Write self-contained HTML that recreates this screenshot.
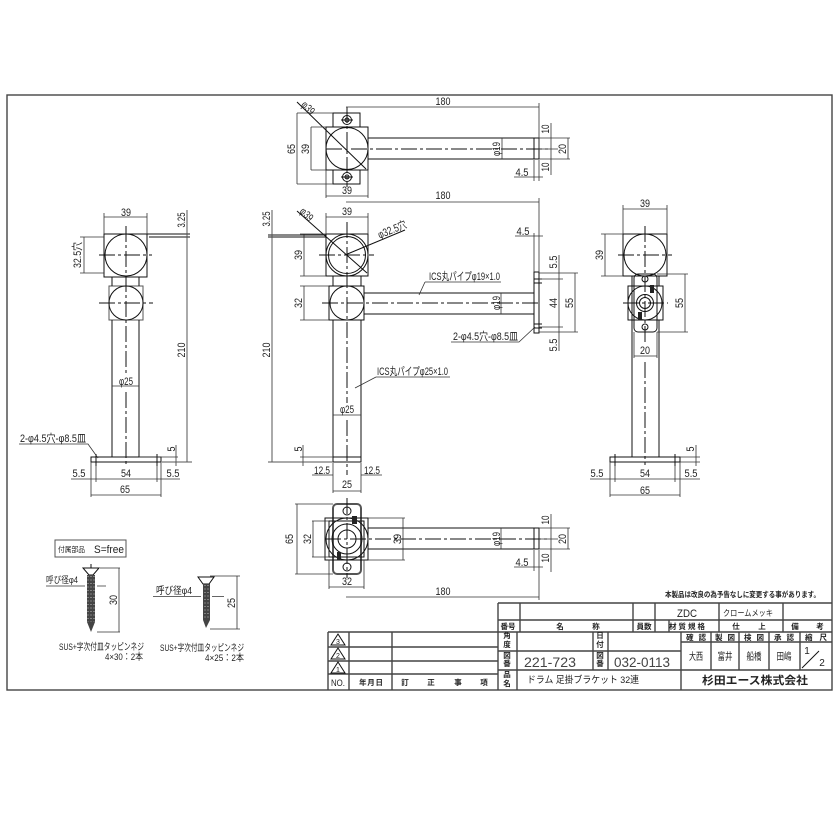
<!DOCTYPE html>
<html><head><meta charset="utf-8"><style>
html,body{margin:0;padding:0;background:#fff}
svg{display:block;filter:blur(.3px)}
text{font-family:"Liberation Sans","Noto Sans CJK JP",sans-serif;fill:#222;font-size:11px;text-anchor:middle}
.s{font-size:7.5px;font-weight:bold}
.l{text-anchor:start}
.k{stroke:#111;stroke-width:1;fill:none}
.g{stroke:#555;stroke-width:1;fill:none}
.d{stroke:#333;stroke-width:.8;fill:none}
.c{stroke:#111;stroke-width:1;fill:none;stroke-dasharray:16 3 3 3}
.f{stroke:#444;stroke-width:1.4;fill:none}
</style></head><body>
<svg width="840" height="840" viewBox="0 0 840 840" xmlns="http://www.w3.org/2000/svg">
<rect width="840" height="840" fill="#fff"/>
<rect x="7" y="95" width="825" height="595" class="f"/>

<!-- TOP VIEW -->
<g class="k">
<path d="M333 127V113H360V127M333 170V184H360V170"/>
<rect x="326" y="127" width="42" height="43"/>
<circle cx="347" cy="148.500" r="21"/>
<path d="M368 138H534M368 159H534"/>
<rect x="534" y="138" width="5" height="21"/>
<circle cx="347" cy="120" r="4.500"/><circle cx="347" cy="120" r="2"/>
<circle cx="347" cy="177" r="4.500"/><circle cx="347" cy="177" r="2"/>
<path d="M341 120H353M341 177H353M297 102L366 169"/>
</g>
<path class="c" d="M326 149H548M347 107V187"/>
<path class="d" d="M346 107H539M539 103V150M297 113V184M297 113H333M297 184H333M311 127V170M311 127H326M311 170H326M326 196H368M326 170V198M368 170V198M502 138V159M551 123V175M539 138H570M539 149H558M539 159H570M568 138V159M514 177H543M534 160V181M539 160V181"/>
<text x="443" y="105" textLength="15" lengthAdjust="spacingAndGlyphs">180</text>
<text transform="translate(305.500 110.500) rotate(45)" textLength="14" lengthAdjust="spacingAndGlyphs">φ39</text>
<text transform="translate(295 149) rotate(-90)" textLength="10" lengthAdjust="spacingAndGlyphs">65</text>
<text transform="translate(309 149) rotate(-90)" textLength="10" lengthAdjust="spacingAndGlyphs">39</text>
<text x="347" y="194" textLength="10" lengthAdjust="spacingAndGlyphs">39</text>
<text transform="translate(500 149) rotate(-90)" textLength="14" lengthAdjust="spacingAndGlyphs">φ19</text>
<text transform="translate(549 129) rotate(-90)" textLength="9" lengthAdjust="spacingAndGlyphs">10</text>
<text transform="translate(549 167) rotate(-90)" textLength="9" lengthAdjust="spacingAndGlyphs">10</text>
<text transform="translate(566 149) rotate(-90)" textLength="10" lengthAdjust="spacingAndGlyphs">20</text>
<text x="522" y="176" textLength="13" lengthAdjust="spacingAndGlyphs">4.5</text>

<!-- FRONT VIEW -->
<g class="k">
<rect x="326" y="234" width="42" height="42"/>
<circle cx="347" cy="255" r="21"/><circle cx="347" cy="255" r="18.500"/>
<rect x="329" y="286" width="35" height="34"/>
<circle cx="347" cy="303" r="17"/>
<path d="M333 276V286M361 276V286M333 320V457M361 320V457M364 293H534M364 314H534"/>
<rect x="534" y="272" width="5" height="61"/>
<path d="M333 457H361V462H333Z"/>
<path d="M297 211L367 273M345 255L405 230"/>
<path d="M534 279H542M534 283H542M534 324H542M534 328H542"/>
</g>
<path class="c" d="M319 255H374M347 222V403M347 420V475M322 303H540"/>
<path class="d" d="M346 202H539M539 198V272M326 217H368M326 213V234M368 213V234M304 234V276M300 234H326M300 276H326M304 286V320M300 286H329M300 320H329M501 293V314M515 236H543M534 233V272M539 233V272M559 255V351M539 279H563M539 327H563M575 273V332M539 273H578M539 332H578M303 445V466M300 457H333M333 475H312M361 475H382M333 463V493M361 463V493M333 491H361M333 415H361"/>
<path class="k" stroke-width="1.500" d="M268 235H326M268 237H326"/>
<path class="g" d="M272 210V462M268 462H333"/>
<text transform="translate(270 219) rotate(-90)" textLength="15" lengthAdjust="spacingAndGlyphs">3.25</text>
<text x="443" y="199" textLength="15" lengthAdjust="spacingAndGlyphs">180</text>
<text x="347" y="215" textLength="10" lengthAdjust="spacingAndGlyphs">39</text>
<text transform="translate(304 217) rotate(45)" textLength="14" lengthAdjust="spacingAndGlyphs">φ39</text>
<text transform="translate(393.500 233) rotate(-22)" textLength="30" lengthAdjust="spacingAndGlyphs">φ32.5穴</text>
<text transform="translate(302 255) rotate(-90)" textLength="10" lengthAdjust="spacingAndGlyphs">39</text>
<text transform="translate(302 303) rotate(-90)" textLength="10" lengthAdjust="spacingAndGlyphs">32</text>
<text transform="translate(270 350) rotate(-90)" textLength="15" lengthAdjust="spacingAndGlyphs">210</text>
<text class="l" x="429" y="280" textLength="71" lengthAdjust="spacingAndGlyphs">ICS丸パイプφ19×1.0</text>
<path class="d" d="M425 282H501M425 282L419 295"/>
<text transform="translate(500 303) rotate(-90)" textLength="14" lengthAdjust="spacingAndGlyphs">φ19</text>
<text x="523" y="235" textLength="13" lengthAdjust="spacingAndGlyphs">4.5</text>
<text transform="translate(557 262) rotate(-90)" textLength="13" lengthAdjust="spacingAndGlyphs">5.5</text>
<text transform="translate(557 303) rotate(-90)" textLength="10" lengthAdjust="spacingAndGlyphs">44</text>
<text transform="translate(557 345) rotate(-90)" textLength="13" lengthAdjust="spacingAndGlyphs">5.5</text>
<text transform="translate(573 303) rotate(-90)" textLength="10" lengthAdjust="spacingAndGlyphs">55</text>
<text class="l" x="453" y="340" textLength="65" lengthAdjust="spacingAndGlyphs">2-φ4.5穴-φ8.5皿</text>
<path class="d" d="M451 342H519L535 327"/>
<text class="l" x="377" y="375" textLength="71" lengthAdjust="spacingAndGlyphs">ICS丸パイプφ25×1.0</text>
<path class="d" d="M376 377H450M376 377L355 388"/>
<text x="347" y="413" textLength="14" lengthAdjust="spacingAndGlyphs">φ25</text>
<text transform="translate(302 449) rotate(-90)" textLength="5" lengthAdjust="spacingAndGlyphs">5</text>
<text x="322" y="474" textLength="16" lengthAdjust="spacingAndGlyphs">12.5</text>
<text x="372" y="474" textLength="16" lengthAdjust="spacingAndGlyphs">12.5</text>
<text x="347" y="488" textLength="10" lengthAdjust="spacingAndGlyphs">25</text>

<!-- LEFT VIEW -->
<g class="k">
<rect x="104" y="234" width="43" height="43"/>
<circle cx="126" cy="255" r="21"/>
<rect x="109" y="286" width="34" height="34" stroke="#555"/>
<circle cx="126" cy="303" r="17"/>
<path d="M112 277V286M139 277V286M112 320V457M139 320V457"/>
<rect x="91" y="457" width="70" height="5"/>
<path d="M96 454V466M157 454V466"/>
</g>
<path class="c" d="M99 255H152M99 303H153M126 226V374M126 392V467"/>
<path class="d" d="M104 217H147M104 213V234M147 213V234M84 237V273M80 237H104M80 273H104M112 386H139M176 445V466M139 457H178M71 479H96M96 479H157M157 479H180M91 462V497M161 462V497M91 495H161M96 466V482M157 466V482"/>
<path class="k" stroke-width="1.500" d="M147 234H190M149 237H190"/>
<path class="g" d="M187 210V462M162 462H192"/>
<text x="126" y="216" textLength="10" lengthAdjust="spacingAndGlyphs">39</text>
<text transform="translate(185 220) rotate(-90)" textLength="15" lengthAdjust="spacingAndGlyphs">3.25</text>
<text transform="translate(81 255) rotate(-90)" textLength="26" lengthAdjust="spacingAndGlyphs">32.5穴</text>
<text x="126" y="385" textLength="14" lengthAdjust="spacingAndGlyphs">φ25</text>
<text transform="translate(185 350) rotate(-90)" textLength="15" lengthAdjust="spacingAndGlyphs">210</text>
<text transform="translate(175 449) rotate(-90)" textLength="5" lengthAdjust="spacingAndGlyphs">5</text>
<text x="79" y="477" textLength="13" lengthAdjust="spacingAndGlyphs">5.5</text>
<text x="126" y="477" textLength="10" lengthAdjust="spacingAndGlyphs">54</text>
<text x="173" y="477" textLength="13" lengthAdjust="spacingAndGlyphs">5.5</text>
<text x="125" y="493" textLength="10" lengthAdjust="spacingAndGlyphs">65</text>
<text class="l" x="20" y="442" textLength="66" lengthAdjust="spacingAndGlyphs">2-φ4.5穴-φ8.5皿</text>
<path class="d" d="M19 444H88L98 458"/>

<!-- RIGHT VIEW -->
<g class="k">
<rect x="623" y="234" width="44" height="42"/>
<circle cx="645" cy="255" r="21"/>
<rect x="634" y="274" width="23" height="58" rx="4"/>
<rect x="628" y="286" width="35" height="34"/>
<circle cx="645" cy="303" r="17"/><circle cx="645" cy="303" r="8.500"/><circle cx="645" cy="303" r="5.500"/>
<circle cx="645" cy="327" r="3"/><circle cx="645" cy="279" r="3"/>
<path d="M632 276V457M659 276V286M659 320V457"/>
<rect x="610" y="457" width="70" height="5"/>
<path d="M615 454V466M675 454V466"/>
</g>
<rect x="650" y="285" width="4" height="8" fill="#222"/><rect x="638" y="312" width="4" height="8" fill="#222"/>
<path class="c" d="M618 255H672M623 303H668M645 226V345M645 362V465"/>
<path class="d" d="M623 209H667M623 205V234M667 205V234M605 234V276M601 234H623M601 276H623M685 274V332M657 274H688M657 332H688M634 356H657M634 332V358M657 332V358M696 445V466M680 457H700M680 462H700M590 479H610M610 479H680M680 479H700M610 462V497M680 462V497M610 495H680M615 466V482M675 466V482"/>
<text x="645" y="207" textLength="10" lengthAdjust="spacingAndGlyphs">39</text>
<text transform="translate(603 255) rotate(-90)" textLength="10" lengthAdjust="spacingAndGlyphs">39</text>
<text transform="translate(683 303) rotate(-90)" textLength="10" lengthAdjust="spacingAndGlyphs">55</text>
<text x="645" y="354" textLength="10" lengthAdjust="spacingAndGlyphs">20</text>
<text transform="translate(694 449) rotate(-90)" textLength="5" lengthAdjust="spacingAndGlyphs">5</text>
<text x="597" y="477" textLength="13" lengthAdjust="spacingAndGlyphs">5.5</text>
<text x="645" y="477" textLength="10" lengthAdjust="spacingAndGlyphs">54</text>
<text x="691" y="477" textLength="13" lengthAdjust="spacingAndGlyphs">5.5</text>
<text x="645" y="494" textLength="10" lengthAdjust="spacingAndGlyphs">65</text>

<!-- BOTTOM VIEW -->
<g class="k">
<rect x="333" y="504" width="28" height="70" rx="4" stroke="#555" stroke-width="2"/>
<rect x="325" y="518" width="43" height="42"/>
<rect x="329" y="521" width="35" height="36"/>
<circle cx="347" cy="539" r="21"/><circle cx="347" cy="539" r="9"/><circle cx="347" cy="539" r="15"/>
<circle cx="347" cy="511" r="4"/><circle cx="347" cy="567" r="4"/>
<path d="M368 528H534M368 549H534"/>
<rect x="534" y="528" width="5" height="21"/>
</g>
<rect x="352" y="516" width="5" height="8" fill="#222"/><rect x="337" y="552" width="4" height="8" fill="#222"/>
<path class="c" d="M325 539H548M347 498V578"/>
<path class="d" d="M297 504V574M295 504H333M295 574H333M313 521V557M312 521H329M312 557H329M403 518V560M368 518H405M368 560H405M501 528V549M551 514V572M539 528H570M539 539H558M539 549H570M568 528V549M514 567H543M534 550V571M539 550V571M329 587H364M329 560V589M364 560V589M346 597H539M539 550V600"/>
<text transform="translate(293 539) rotate(-90)" textLength="10" lengthAdjust="spacingAndGlyphs">65</text>
<text transform="translate(311 539) rotate(-90)" textLength="10" lengthAdjust="spacingAndGlyphs">32</text>
<text transform="translate(401 539) rotate(-90)" textLength="10" lengthAdjust="spacingAndGlyphs">39</text>
<text transform="translate(500 539) rotate(-90)" textLength="14" lengthAdjust="spacingAndGlyphs">φ19</text>
<text transform="translate(549 520) rotate(-90)" textLength="9" lengthAdjust="spacingAndGlyphs">10</text>
<text transform="translate(549 558) rotate(-90)" textLength="9" lengthAdjust="spacingAndGlyphs">10</text>
<text transform="translate(566 539) rotate(-90)" textLength="10" lengthAdjust="spacingAndGlyphs">20</text>
<text x="522" y="566" textLength="13" lengthAdjust="spacingAndGlyphs">4.5</text>
<text x="347" y="585" textLength="10" lengthAdjust="spacingAndGlyphs">32</text>
<text x="443" y="595" textLength="15" lengthAdjust="spacingAndGlyphs">180</text>

<!-- SCREWS -->
<rect x="55" y="540" width="71" height="17" class="g"/>
<text class="l" x="58" y="552" style="font-size:7.500px" textLength="27" lengthAdjust="spacingAndGlyphs">付属部品</text>
<text class="l" x="94" y="553" textLength="30" lengthAdjust="spacingAndGlyphs">S=free</text>
<path class="k" d="M83 568H99L93 575H89ZM91 564V568"/>
<path d="M91 632L87 622V575H95V622Z" fill="#444"/>
<path stroke="#ddd" stroke-width=".8" stroke-dasharray="1 2.500" fill="none" d="M91 576V622M88 576V622M94 576V622"/>
<path class="k" d="M198 577H214L209 584H203Z"/>
<path d="M206 628L203 620V584H210V620Z" fill="#444"/>
<path stroke="#ddd" stroke-width=".8" stroke-dasharray="1 2.500" fill="none" d="M205 585V620M208 585V620"/>
<path class="d" d="M100 568H120M119 568V632M97 632H120M46 586H85M97 586H106M210 576H240M237 576V629M210 629H240M153 596.500H201M212 596.500H224"/>
<text transform="translate(117 600) rotate(-90)" textLength="10" lengthAdjust="spacingAndGlyphs">30</text>
<text transform="translate(235 603) rotate(-90)" textLength="10" lengthAdjust="spacingAndGlyphs">25</text>
<text class="l" x="46" y="583" style="font-size:9px" textLength="32" lengthAdjust="spacingAndGlyphs">呼び径φ4</text>
<text class="l" x="156" y="594" style="font-size:10px" textLength="36" lengthAdjust="spacingAndGlyphs">呼び径φ4</text>
<text class="l" x="59" y="650" style="font-size:9.500px" textLength="85" lengthAdjust="spacingAndGlyphs">SUS+字次付皿タッピンネジ</text>
<text class="l" x="105" y="660" style="font-size:9.500px" textLength="38" lengthAdjust="spacingAndGlyphs">4×30：2本</text>
<text class="l" x="160" y="651" style="font-size:9.500px" textLength="84" lengthAdjust="spacingAndGlyphs">SUS+字次付皿タッピンネジ</text>
<text class="l" x="205" y="661" style="font-size:9.500px" textLength="39" lengthAdjust="spacingAndGlyphs">4×25：2本</text>

<!-- TITLE BLOCK -->
<text class="l" x="665" y="597" style="font-size:7.500px;font-weight:bold" textLength="155" lengthAdjust="spacingAndGlyphs">本製品は改良の為予告なしに変更する事があります。</text>
<path class="f" d="M498 603H832M498 603V690M520 603V632M498 620H832M328 632H832M633 603V632M655 603V632M719 603V632M783 603V632M669 620V632M328 632V690M349 632V690M392 632V690M328 647H498M328 661H498M328 674H498M517 632V690M498 651H681M498 670H832M593 632V670M608 632V670M681 632V690M711 632V670M739 632V670M769 632V670M800 632V670M681 642H832"/>
<text x="687" y="617" textLength="20" lengthAdjust="spacingAndGlyphs">ZDC</text>
<text class="l" x="723" y="616" style="font-size:8.500px" textLength="50" lengthAdjust="spacingAndGlyphs">クロームメッキ</text>
<text class="s" x="508" y="629">番号</text>
<text class="s" x="560" y="629">名</text><text class="s" x="596" y="629">称</text>
<text class="s" x="644" y="629">員数</text>
<text class="s" x="687" y="629" textLength="36">材質規格</text>
<text class="s" x="736" y="629">仕</text><text class="s" x="762" y="629">上</text>
<text class="s" x="795" y="629">備</text><text class="s" x="820" y="629">考</text>
<text class="s" x="507" y="638">角</text><text class="s" x="507" y="647">度</text>
<text class="s" x="507" y="658">図</text><text class="s" x="507" y="666">番</text>
<text class="s" x="507" y="677">品</text><text class="s" x="507" y="686">名</text>
<text class="s" x="600" y="638">日</text><text class="s" x="600" y="647">付</text>
<text class="s" x="600" y="658">図</text><text class="s" x="600" y="666">番</text>
<text class="s" x="696" y="640" textLength="20">確認</text>
<text class="s" x="725" y="640" textLength="20">製図</text>
<text class="s" x="754" y="640" textLength="20">検図</text>
<text class="s" x="784" y="640" textLength="20">承認</text>
<text class="s" x="816" y="640" textLength="22">縮尺</text>
<text x="550" y="667" style="font-size:14px;fill:#444" textLength="52" lengthAdjust="spacingAndGlyphs">221-723</text>
<text x="642" y="667" style="font-size:14px;fill:#444" textLength="56" lengthAdjust="spacingAndGlyphs">032-0113</text>
<text x="696" y="660" style="font-size:10px" textLength="14" lengthAdjust="spacingAndGlyphs">大西</text>
<text x="725" y="660" style="font-size:10px" textLength="15" lengthAdjust="spacingAndGlyphs">富井</text>
<text x="754" y="660" style="font-size:10px" textLength="15" lengthAdjust="spacingAndGlyphs">船橋</text>
<text x="784" y="660" style="font-size:10px" textLength="15" lengthAdjust="spacingAndGlyphs">田嶋</text>
<text x="807" y="654" style="font-size:10px">1</text><text x="822" y="666" style="font-size:10px">2</text>
<path class="k" d="M802 668L819 651"/>
<text class="l" x="527" y="683" style="font-size:9.500px" textLength="112" lengthAdjust="spacingAndGlyphs">ドラム 足掛ブラケット 32連</text>
<text class="l" x="702" y="684" style="font-size:11px;font-weight:bold" textLength="106" lengthAdjust="spacingAndGlyphs">杉田エース株式会社</text>
<g class="k" stroke-width=".8">
<path d="M338 634L331 645H345Z M338 648L331 659H345Z M338 662L331 673H345Z"/>
</g>
<text x="338" y="644" style="font-size:7px">3</text>
<text x="338" y="658" style="font-size:7px">2</text>
<text x="338" y="672" style="font-size:7px">1</text>
<text x="338" y="686" style="font-size:9px" textLength="14" lengthAdjust="spacingAndGlyphs">NO.</text>
<text class="s" x="371" y="685" textLength="24">年月日</text>
<text class="s" x="405" y="685">訂</text><text class="s" x="431" y="685">正</text><text class="s" x="458" y="685">事</text><text class="s" x="484" y="685">項</text>
</svg>
</body></html>
